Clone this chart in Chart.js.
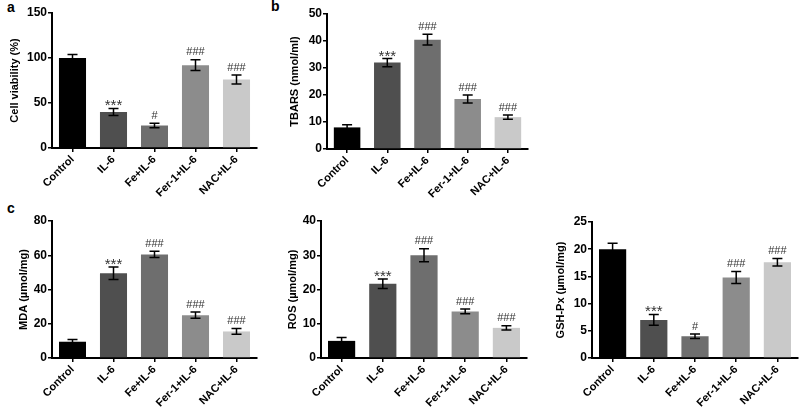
<!DOCTYPE html>
<html>
<head>
<meta charset="utf-8">
<script src="https://cdn.jsdelivr.net/npm/chart.js@4/dist/chart.umd.min.js"></script>
<style>
  body { margin: 0; background: #fff; }
  #wrap { position: relative; width: 800px; height: 412px; overflow: hidden; font-family: "Liberation Sans", Arial, sans-serif; }
  canvas { position: absolute; }
  .tag { position: absolute; font-weight: bold; font-size: 14px; color: #000; }
</style>
</head>
<body>
<div id="wrap">
  <div class="tag" style="left:7px;top:-1px">a</div>
  <div class="tag" style="left:271px;top:-2px">b</div>
  <div class="tag" style="left:7px;top:200px">c</div>
  <canvas id="cA"></canvas>
  <canvas id="cB"></canvas>
  <canvas id="cMda"></canvas>
  <canvas id="cRos"></canvas>
  <canvas id="cGsh"></canvas>
</div>
<script>
// groups
const groups = ['Control', 'IL-6', 'Fe+IL-6', 'Fer-1+IL-6', 'NAC+IL-6'];
const barColors = ['#000000', '#4f4f4f', '#6e6e6e', '#8c8c8c', '#c9c9c9'];

// mean values and error (SD)
const viability = [100, 40, 25, 92, 76];
const viabilityErr = [4, 4, 2.5, 6, 5];
const viabilityMarks = ['', '***', '#', '###', '###'];

const tbars = [8, 32, 40.5, 18.5, 11.8];
const tbarsErr = [1, 1.5, 2, 1.5, 0.8];
const tbarsMarks = ['', '***', '###', '###', '###'];

const mda = [9.5, 49.5, 60.5, 25, 15.5];
const mdaErr = [1.3, 3.7, 1.8, 1.8, 1.7];
const mdaMarks = ['', '***', '###', '###', '###'];

const ros = [5, 21.7, 30, 13.6, 8.8];
const rosErr = [1, 1.4, 1.9, 0.7, 0.6];
const rosMarks = ['', '***', '###', '###', '###'];

const gsh = [20, 7, 4, 14.8, 17.6];
const gshErr = [1.1, 1, 0.4, 1.1, 0.7];
const gshMarks = ['', '***', '#', '###', '###'];

const FONT = '"Liberation Sans", Arial, sans-serif';

// error bars + significance marks
const errorBars = {
  id: 'errorBars',
  afterDatasetsDraw(chart, args, opts) {
    const ctx = chart.ctx;
    const meta = chart.getDatasetMeta(0);
    const y = chart.scales.y;
    ctx.save();
    ctx.strokeStyle = '#000';
    ctx.lineWidth = 1.5;
    meta.data.forEach((bar, i) => {
      const v = chart.data.datasets[0].data[i];
      const e = opts.err[i];
      const top = y.getPixelForValue(v + e);
      const bot = y.getPixelForValue(v - e);
      ctx.beginPath();
      ctx.moveTo(bar.x, top); ctx.lineTo(bar.x, bot);
      ctx.moveTo(bar.x - 5, top); ctx.lineTo(bar.x + 5, top);
      ctx.moveTo(bar.x - 5, bot); ctx.lineTo(bar.x + 5, bot);
      ctx.stroke();
      const m = opts.marks[i];
      if (m) {
        ctx.fillStyle = '#333';
        ctx.textAlign = 'center';
        if (m[0] === '*') {
          ctx.font = '15px ' + FONT;
          ctx.textBaseline = 'alphabetic';
          ctx.fillText(m, bar.x, top + 2);
        } else {
          ctx.font = '11px ' + FONT;
          ctx.textBaseline = 'bottom';
          ctx.fillText(m, bar.x, top - 2);
        }
      }
    });
    ctx.restore();
  }
};

function makePanel(id, box, values, err, marks, title, max, step) {
  const cv = document.getElementById(id);
  cv.style.left = box.x + 'px';
  cv.style.top = box.y + 'px';
  cv.style.width = box.w + 'px';
  cv.style.height = box.h + 'px';
  cv.width = box.w;
  cv.height = box.h;
  new Chart(cv, {
    type: 'bar',
    data: {
      labels: groups,
      datasets: [{
        data: values,
        backgroundColor: barColors,
        borderWidth: 0,
        barPercentage: 0.66,
        categoryPercentage: 1
      }]
    },
    plugins: [errorBars],
    options: {
      responsive: false,
      animation: false,
      events: [],
      layout: { padding: { left: 0, top: box.top, right: box.right, bottom: 0 } },
      plugins: {
        legend: { display: false },
        tooltip: { enabled: false },
        errorBars: { err: err, marks: marks }
      },
      scales: {
        x: {
          afterFit(s) { s.height = box.xh; },
          border: { display: true, color: '#000', width: 2 },
          grid: { offset: false, drawOnChartArea: false, drawTicks: true, tickLength: 4, color: '#000', lineWidth: 1.5 },
          ticks: {
            color: '#000', minRotation: 45, maxRotation: 45, padding: 1,
            font: { family: FONT, size: 11, weight: 'bold' }
          }
        },
        y: {
          min: 0, max: max,
          afterFit(s) { s.width = box.yw; },
          border: { display: true, color: '#000', width: 2 },
          grid: { drawOnChartArea: false, drawTicks: true, tickLength: 4, color: '#000', lineWidth: 1.5 },
          ticks: {
            stepSize: step, color: '#000', padding: 1,
            font: { family: FONT, size: 12, weight: 'bold' }
          },
          title: {
            display: true, text: title, color: '#000',
            padding: { top: box.tp, bottom: 0 },
            font: { family: FONT, size: 11, weight: 'bold' }
          }
        }
      }
    }
  });
}

makePanel('cA', { x: 0, y: 0, w: 262, h: 200, top: 13, right: 5, yw: 52, xh: 52, tp: 8 },
  viability, viabilityErr, viabilityMarks, 'Cell viability (%)', 150, 50);
makePanel('cB', { x: 262, y: 0, w: 272, h: 200, top: 14, right: 6, yw: 65, xh: 51, tp: 26 },
  tbars, tbarsErr, tbarsMarks, 'TBARS (nmol/ml)', 50, 10);
makePanel('cMda', { x: 0, y: 202, w: 262, h: 210, top: 19, right: 5, yw: 52, xh: 54, tp: 17 },
  mda, mdaErr, mdaMarks, 'MDA (µmol/mg)', 80, 20);
makePanel('cRos', { x: 268, y: 202, w: 266, h: 210, top: 19, right: 7, yw: 53, xh: 54, tp: 18 },
  ros, rosErr, rosMarks, 'ROS (µmol/mg)', 40, 10);
makePanel('cGsh', { x: 534, y: 202, w: 266, h: 210, top: 20, right: 2, yw: 58, xh: 54, tp: 20 },
  gsh, gshErr, gshMarks, 'GSH-Px (µmol/mg)', 25, 5);
</script>
</body>
</html>
